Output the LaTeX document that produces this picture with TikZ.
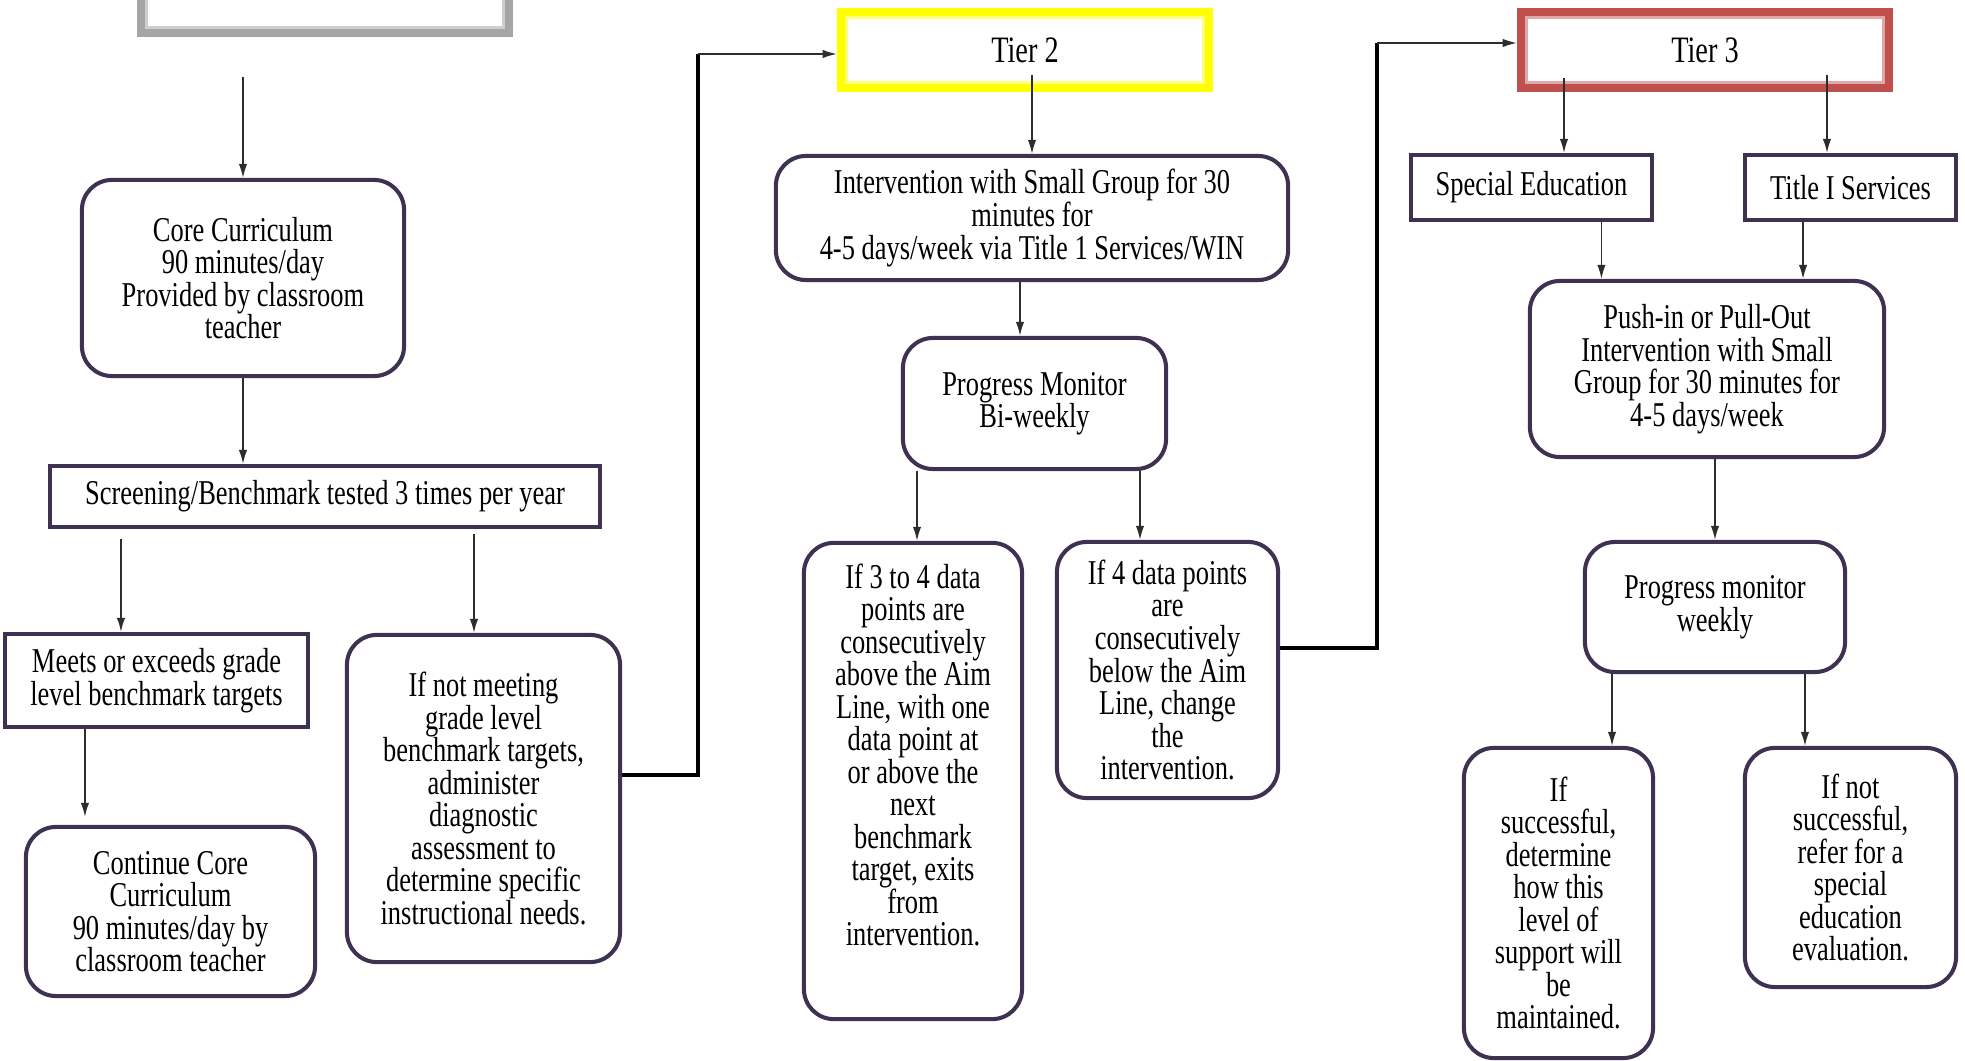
\documentclass[tikz,border=0pt]{standalone}
\usepackage{fontspec}
\setmainfont{Liberation Serif}[FakeStretch=0.76]
\usepackage{xcolor}
\usepackage{tikz}
\usetikzlibrary{arrows.meta}
\definecolor{boxpurple}{RGB}{63,49,81}
\definecolor{tiergray}{RGB}{165,165,165}
\definecolor{tieryellow}{RGB}{255,255,0}
\definecolor{tierred}{RGB}{192,80,77}
\definecolor{linegray}{RGB}{45,45,45}
\newcommand{\boxfont}{\fontsize{9.9}{9.25}\selectfont\setlength{\lineskiplimit}{-20pt}}

\begin{document}
\begin{tikzpicture}[x=0.01cm,y=-0.01cm,
    font=\boxfont,
    sqbox/.style={draw=boxpurple,line width=1.15pt,align=center,inner sep=0pt},
    rbox/.style={sqbox,rounded corners=0.3cm},
    tierbox/.style={draw=#1,line width=2.9pt,minimum width=3.66cm,minimum height=0.74cm,
      inner sep=0pt,font=\fontsize{10.6}{12}\selectfont},
    arr/.style={draw=linegray,line width=0.45pt,-{Latex[length=4pt,width=2.4pt]}},
    elbow/.style={draw=black,line width=1.15pt}]
        \useasboundingbox (0,0) rectangle (1965,1061);
        % tier headers
        \node[tierbox=tiergray] (tierone) at (325,-5) {};
        \draw[tiergray!55,line width=0.9pt] ([shift={(10,10)}]tierone.north west) rectangle ([shift={(-10,-10)}]tierone.south east);
        \node[tierbox=tieryellow] (tiertwo) at (1025,50) {Tier 2};
        \draw[tieryellow!50,line width=0.9pt] ([shift={(10,10)}]tiertwo.north west) rectangle ([shift={(-10,-10)}]tiertwo.south east);
        \node[tierbox=tierred] (tierthree) at (1705,50) {Tier 3};
        \draw[tierred!50,line width=0.9pt] ([shift={(10,10)}]tierthree.north west) rectangle ([shift={(-10,-10)}]tierthree.south east);

        % tier 1 column
        \node[rbox,minimum width=3.22cm,minimum height=1.96cm] (core) at (243,278)
          {Core Curriculum\\90 minutes/day\\Provided by classroom\\teacher};
        \node[sqbox,minimum width=5.50cm,minimum height=0.61cm] (screen) at (325,496.5)
          {Screening/Benchmark tested 3 times per year};
        \node[sqbox,minimum width=3.03cm,minimum height=0.93cm] (meets) at (156.5,680.5)
          {Meets or exceeds grade\\level benchmark targets};
        \node[rbox,minimum width=2.89cm,minimum height=1.69cm] (contcore) at (170.5,911.5)
          {Continue Core\\Curriculum\\90 minutes/day by\\classroom teacher};
        \node[rbox,minimum width=2.73cm,minimum height=3.27cm] (nomeet) at (483.5,798.5)
          {If not meeting\\grade level\\benchmark targets,\\administer\\diagnostic\\assessment to\\determine specific\\instructional needs.};

        % tier 2 column
        \node[rbox,minimum width=5.12cm,minimum height=1.24cm] (smallgrp) at (1032,218)
          {Intervention with Small Group for 30\\minutes for\\4-5 days/week via Title 1 Services/WIN};
        \node[rbox,minimum width=2.63cm,minimum height=1.31cm] (pmbiweek) at (1034.5,403.5)
          {Progress Monitor\\Bi-weekly};
        \node[rbox,minimum width=2.18cm,minimum height=4.76cm] (exits) at (913,781) {};
        \node[anchor=north,align=center,inner sep=0pt] (exitstext) at ([yshift=-0.22cm]exits.north)
          {If 3 to 4 data\\points are\\consecutively\\above the Aim\\Line, with one\\data point at\\or above the\\next\\benchmark\\target, exits\\from\\intervention.};
        \node[rbox,minimum width=2.21cm,minimum height=2.56cm] (change) at (1167.5,670)
          {If 4 data points\\are\\consecutively\\below the Aim\\Line, change\\the\\intervention.};

        % tier 3 column
        \node[sqbox,minimum width=2.41cm,minimum height=0.65cm] (sped) at (1531.5,187.5) {Special Education};
        \node[sqbox,minimum width=2.11cm,minimum height=0.65cm] (titlei) at (1850.5,187.5) {Title I Services};
        \node[rbox,minimum width=3.54cm,minimum height=1.76cm] (pushin) at (1707,369)
          {Push-in or Pull-Out\\Intervention with Small\\Group for 30 minutes for\\4-5 days/week};
        \node[rbox,minimum width=2.60cm,minimum height=1.30cm] (pmweekly) at (1715,607)
          {Progress monitor\\weekly};
        \node[rbox,minimum width=1.89cm,minimum height=3.10cm] (success) at (1558.5,903)
          {If\\successful,\\determine\\how this\\level of\\support will\\be\\maintained.};
        \node[rbox,minimum width=2.11cm,minimum height=2.39cm] (nosuccess) at (1850.5,867.5)
          {If not\\successful,\\refer for a\\special\\education\\evaluation.};

        % arrows
        \draw[arr,shorten <=0.4cm] (core.north |- tierone.south) -- (core.north);
        \draw[arr] (core.south) -- (core.south |- screen.north);
        \draw[arr,shorten <=0.1cm] ([xshift=-0.355cm]meets.north |- screen.south) -- ([xshift=-0.355cm]meets.north);
        \draw[arr,shorten <=0.05cm] ([xshift=-0.095cm]nomeet.north |- screen.south) -- ([xshift=-0.095cm]nomeet.north);
        \draw[arr,shorten >=0.08cm] ([xshift=-0.855cm]contcore.north |- meets.south) -- ([xshift=-0.855cm]contcore.north);
        \draw[arr,shorten <=0.25cm] (smallgrp.north |- tiertwo.center) -- (smallgrp.north);
        \draw[arr] ([xshift=-0.145cm]pmbiweek.north |- smallgrp.south) -- ([xshift=-0.145cm]pmbiweek.north);
        \draw[arr] ([xshift=0.04cm]exits.north |- pmbiweek.south) -- ([xshift=0.04cm]exits.north);
        \draw[arr] ([xshift=-0.275cm]change.north |- pmbiweek.south) -- ([xshift=-0.275cm]change.north);
        \draw[arr,shorten <=0.28cm] ([xshift=0.325cm]sped.north |- tierthree.center) -- ([xshift=0.325cm]sped.north);
        \draw[arr,shorten <=0.25cm] ([xshift=-0.235cm]titlei.north |- tierthree.center) -- ([xshift=-0.235cm]titlei.north);
        \draw[arr] ([xshift=-1.055cm]pushin.north |- sped.south) -- ([xshift=-1.055cm]pushin.north);
        \draw[arr] ([xshift=0.96cm]pushin.north |- titlei.south) -- ([xshift=0.96cm]pushin.north);
        \draw[arr] (pmweekly.north |- pushin.south) -- (pmweekly.north);
        \draw[arr] ([xshift=0.535cm]success.north |- pmweekly.south) -- ([xshift=0.535cm]success.north);
        \draw[arr] ([xshift=-0.455cm]nosuccess.north |- pmweekly.south) -- ([xshift=-0.455cm]nosuccess.north);

        % elbow links to the next tier
        \coordinate (upA) at (698,54);
        \draw[elbow] ([yshift=0.235cm]nomeet.east) -| (upA);
        \draw[arr] (upA) -- (upA -| tiertwo.west);
        \coordinate (upB) at (1377,43);
        \draw[elbow] ([yshift=0.22cm]change.east) -| (upB);
        \draw[arr] (upB) -- (upB -| tierthree.west);
\end{tikzpicture}
\end{document}
